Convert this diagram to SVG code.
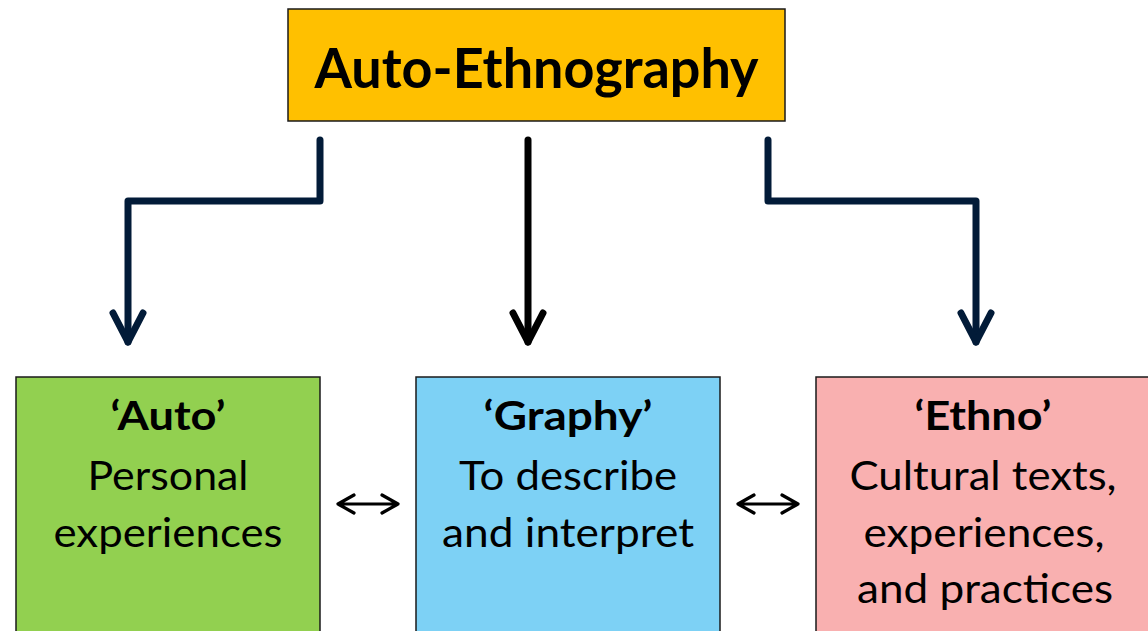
<svg xmlns="http://www.w3.org/2000/svg" width="1148" height="631" viewBox="0 0 1148 631">
  <style>
    .box { stroke: #1a1a1a; stroke-width: 1.5; }
    .t { font-family: Lato, "Open Sans", "Liberation Sans", sans-serif; fill: #000; text-anchor: middle; font-size: 41px; }
    .b { font-weight: bold; }
    .title { font-size: 55px; font-weight: bold; }
    .conn { fill: none; stroke-width: 7; stroke-linecap: round; stroke-linejoin: round; }
    .navy { stroke: #021B38; }
    .blk { stroke: #000; }
    .dbl { fill: none; stroke: #000; stroke-width: 3.2; stroke-linecap: round; stroke-linejoin: round; }
  </style>
  <rect width="1148" height="631" fill="#fff"/>

  <g id="node-title">
    <rect class="box" x="288" y="9" width="497" height="112" fill="#FFC000"/>
    <text class="t title" x="536.5" y="88" textLength="444" lengthAdjust="spacingAndGlyphs">Auto-Ethnography</text>
  </g>

  <g id="node-auto">
    <rect class="box" x="16" y="377" width="304" height="270" fill="#92D050"/>
    <text class="t b" x="168" y="430" textLength="115" lengthAdjust="spacingAndGlyphs">‘Auto’</text>
    <text class="t" x="168" y="490" textLength="161" lengthAdjust="spacingAndGlyphs">Personal</text>
    <text class="t" x="168" y="547" textLength="229" lengthAdjust="spacingAndGlyphs">experiences</text>
  </g>

  <g id="node-graphy">
    <rect class="box" x="416" y="377" width="304" height="270" fill="#7DD1F5"/>
    <text class="t b" x="568" y="430" textLength="169" lengthAdjust="spacingAndGlyphs">‘Graphy’</text>
    <text class="t" x="568" y="490" textLength="218" lengthAdjust="spacingAndGlyphs">To describe</text>
    <text class="t" x="568" y="547" textLength="252" lengthAdjust="spacingAndGlyphs">and interpret</text>
  </g>

  <g id="node-ethno">
    <rect class="box" x="816" y="377" width="340" height="270" fill="#F9B0B0"/>
    <text class="t b" x="983" y="430" textLength="137" lengthAdjust="spacingAndGlyphs">‘Ethno’</text>
    <text class="t" x="983" y="490" textLength="267" lengthAdjust="spacingAndGlyphs">Cultural texts,</text>
    <text class="t" x="984" y="547" textLength="241" lengthAdjust="spacingAndGlyphs">experiences,</text>
    <text class="t" x="985" y="603" textLength="256" lengthAdjust="spacingAndGlyphs">and practices</text>
  </g>

  <g id="connectors">
    <path class="conn navy" d="M320 140 V201 H128 V342"/>
    <path class="conn navy" d="M113 313 L128 342 L143 313"/>
    <path class="conn blk" d="M528 140 V342"/>
    <path class="conn blk" d="M513 313 L528 342 L543 313"/>
    <path class="conn navy" d="M768 140 V201 H976 V342"/>
    <path class="conn navy" d="M961 313 L976 342 L991 313"/>
    <path class="dbl" d="M338 504 H398 M354 495 L338 504 L354 513 M382 495 L398 504 L382 513"/>
    <path class="dbl" d="M738 504 H798 M754 495 L738 504 L754 513 M782 495 L798 504 L782 513"/>
  </g>
</svg>
